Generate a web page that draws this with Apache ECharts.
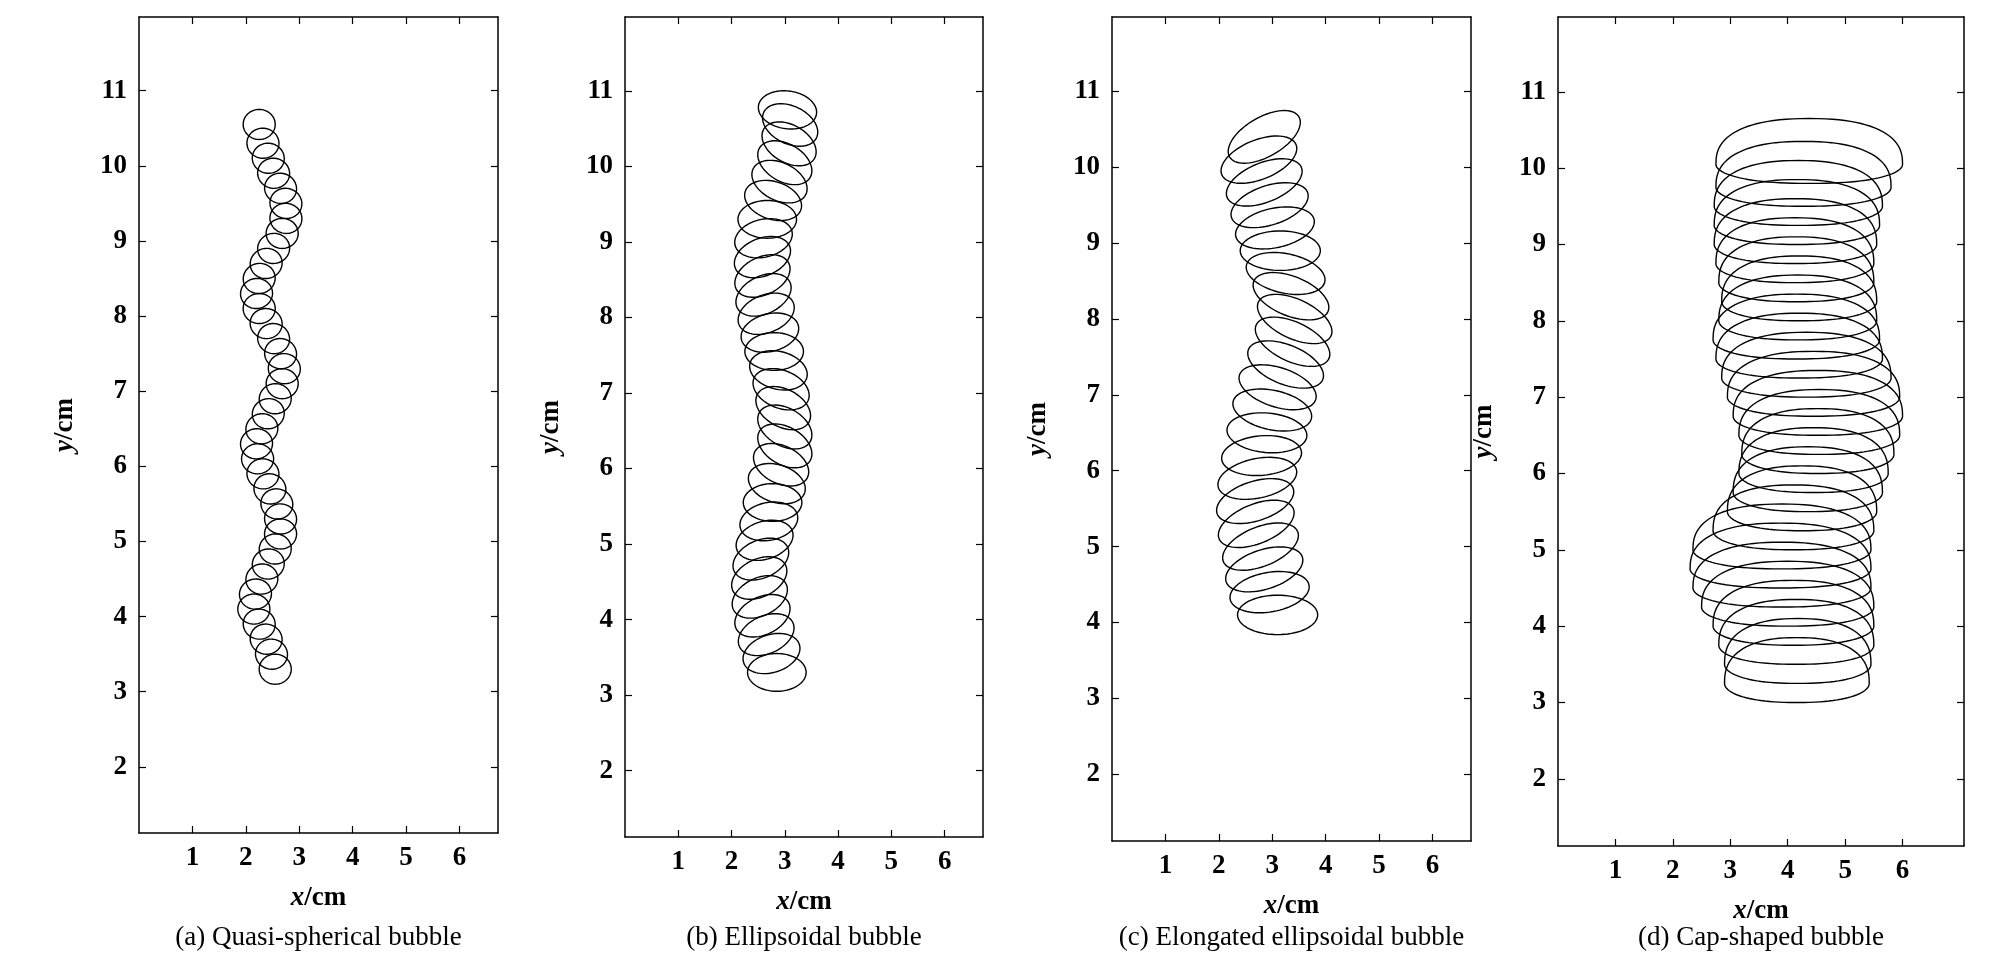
<!DOCTYPE html>
<html><head><meta charset="utf-8">
<script src="https://cdn.jsdelivr.net/npm/echarts@6/dist/echarts.min.js"></script>
<style>html,body{margin:0;padding:0;background:#fff}#c{width:2009px;height:958px}</style>
</head><body><div id="c"></div>
<script>
// ---- data (cm) ----
const xTicks = [1,2,3,4,5,6];
const yTicks = [2,3,4,5,6,7,8,9,10,11];
const captions = ['(a) Quasi-spherical bubble','(b) Ellipsoidal bubble','(c) Elongated ellipsoidal bubble','(d) Cap-shaped bubble'];

// (a) quasi-spherical: centres
const aY = [3.3,3.5,3.7,3.9,4.1,4.3,4.5,4.7,4.9,5.1,5.3,5.5,5.7,5.9,6.1,6.3,6.5,6.7,6.9,7.1,7.3,7.5,7.7,7.9,8.1,8.3,8.5,8.7,8.9,9.1,9.3,9.5,9.7,9.9,10.1,10.3,10.55];
const aX = [2.55,2.48,2.38,2.25,2.15,2.18,2.3,2.42,2.55,2.65,2.65,2.58,2.45,2.32,2.22,2.2,2.3,2.42,2.55,2.68,2.72,2.65,2.52,2.38,2.25,2.2,2.25,2.38,2.52,2.68,2.75,2.75,2.65,2.52,2.42,2.32,2.25];
const aTilt = [0,-10,-15,-10,0,10,15,15,10,0,-10,-15,-15,-10,0,10,15,15,10,0,-10,-15,-15,-10,0,10,15,15,10,0,-10,-15,-15,-10,-10,-5,0];
const aW = 0.6, aH = 0.4;

// (b) ellipsoidal
const bY = [3.3,3.55,3.8,4.05,4.3,4.55,4.8,5.05,5.3,5.55,5.8,6.05,6.3,6.55,6.8,7.05,7.3,7.55,7.8,8.05,8.3,8.55,8.8,9.05,9.3,9.55,9.8,10.05,10.3,10.55,10.75];
const bX = [2.85,2.75,2.65,2.58,2.53,2.52,2.55,2.62,2.7,2.77,2.85,2.93,3.0,3.0,2.97,2.93,2.88,2.8,2.72,2.65,2.6,2.58,2.58,2.6,2.67,2.78,2.9,3.0,3.08,3.1,3.05];
const bTilt = [0,18,24,26,26,26,24,18,12,0,-18,-26,-30,-30,-28,-22,-14,0,14,22,26,26,22,14,0,-18,-26,-30,-30,-26,-8];
const bW = 1.1, bH = 0.5;

// (c) elongated ellipsoidal
const cY = [4.1,4.4,4.7,5.0,5.3,5.6,5.9,6.2,6.5,6.8,7.1,7.4,7.7,8.0,8.3,8.6,8.9,9.2,9.5,9.8,10.1,10.4];
const cX = [3.1,2.95,2.85,2.78,2.7,2.68,2.72,2.8,2.9,3.0,3.1,3.25,3.38,3.42,3.35,3.25,3.15,3.05,2.95,2.85,2.75,2.85];
const cTilt = [0,10,18,22,22,18,12,5,-5,-12,-18,-22,-25,-25,-22,-12,0,12,18,22,22,30];
const cW = 1.5, cH = 0.52;

// (d) cap-shaped: vertical centre, left and right extents
const dY = [3.35,3.6,3.85,4.1,4.35,4.6,4.85,5.1,5.35,5.6,5.85,6.1,6.35,6.6,6.85,7.1,7.35,7.6,7.85,8.1,8.35,8.6,8.85,9.1,9.35,9.6,9.85,10.15];
const dL = [2.9,2.9,2.8,2.7,2.5,2.35,2.3,2.35,2.7,2.95,3.05,3.15,3.2,3.15,3.05,2.95,2.85,2.75,2.7,2.8,2.85,2.8,2.75,2.72,2.72,2.72,2.75,2.75];
const dR = [5.42,5.45,5.5,5.5,5.5,5.45,5.45,5.45,5.5,5.55,5.65,5.75,5.85,5.95,6.0,5.95,5.8,5.65,5.6,5.55,5.55,5.5,5.5,5.55,5.6,5.65,5.8,6.0];
const dH = 1.0;

// ---- layout ----
const grids = [
  {left:139, top:17, width:359, height:816, xmax:6.72},
  {left:625, top:17, width:358, height:820, xmax:6.72},
  {left:1112,top:17, width:359, height:824, xmax:6.72},
  {left:1558,top:17, width:406, height:829, xmax:7.07}
];
const FONT = 'Liberation Serif';

function ellipseItem(params, api){
  const c = api.coord([api.value(0), api.value(1)]);
  const sx = api.size([api.value(2), 0])[0];
  const sy = api.size([0, api.value(3)])[1];
  const A = sx/2, B = sy/2, th = api.value(4)*Math.PI/180;
  const pts = [];
  for(let i=0;i<72;i++){
    const t = i/72*2*Math.PI;
    const x = A*Math.cos(t), y = B*Math.sin(t);
    pts.push([c[0] + x*Math.cos(th) - y*Math.sin(th), c[1] - x*Math.sin(th) - y*Math.cos(th)]);
  }
  return {type:'polygon', shape:{points:pts}, style:{fill:'none', stroke:'#000', lineWidth:1.4}};
}
function capItem(params, api){
  const l = api.coord([api.value(0), api.value(2)]);
  const r = api.coord([api.value(1), api.value(2)]);
  const s = api.size([1, api.value(3)]);
  const cx = (l[0]+r[0])/2, cy = l[1], A = (r[0]-l[0])/2, B = s[1]/2;
  const pts = [];
  for(let i=0;i<96;i++){
    const t = i/96*2*Math.PI;
    const st = Math.sin(t);
    const x = A*Math.sign(Math.cos(t))*Math.pow(Math.abs(Math.cos(t)),0.85);
    const y = st>=0 ? B*1.2*Math.pow(st,0.8) - 0.2*B : 0.5*B*st - 0.2*B;
    pts.push([cx + x, cy - y]);
  }
  return {type:'polygon', shape:{points:pts}, style:{fill:'none', stroke:'#000', lineWidth:1.4}};
}

const grid=[], xAxis=[], yAxis=[], series=[], graphic=[];
const rich = {i:{fontFamily:FONT, fontStyle:'italic', fontWeight:'bold', fontSize:27, color:'#000'}, n:{fontFamily:FONT, fontWeight:'bold', fontSize:27, color:'#000'}};
grids.forEach((g,i)=>{
  grid.push({left:g.left, top:g.top, width:g.width, height:g.height, containLabel:false});
  const line = {show:true, onZero:false, lineStyle:{color:'#000', width:1.5}};
  const tick = {show:true, inside:true, length:7, lineStyle:{color:'#000', width:1.2}};
  const lab = {color:'#000', fontFamily:FONT, fontWeight:'bold', fontSize:27, margin:12};
  xAxis.push({type:'value', gridIndex:i, min:0, max:g.xmax, position:'bottom', axisLine:line,
    axisTick:Object.assign({customValues:xTicks}, tick), splitLine:{show:false},
    axisLabel:Object.assign({customValues:xTicks}, lab),
    name:'{i|x}{n|/cm}', nameLocation:'middle', nameGap:52, nameTextStyle:{rich}});
  xAxis.push({type:'value', gridIndex:i, min:0, max:g.xmax, position:'top', axisLine:line,
    axisTick:Object.assign({customValues:xTicks}, tick), axisLabel:{show:false}, splitLine:{show:false}});
  yAxis.push({type:'value', gridIndex:i, min:1.12, max:11.98, position:'left', axisLine:line,
    axisTick:Object.assign({customValues:yTicks}, tick), splitLine:{show:false},
    axisLabel:Object.assign({customValues:yTicks}, lab),
    name:'{i|y}{n|/cm}', nameLocation:'middle', nameGap:60, nameRotate:90, nameTextStyle:{rich}});
  yAxis.push({type:'value', gridIndex:i, min:1.12, max:11.98, position:'right', axisLine:line,
    axisTick:Object.assign({customValues:yTicks}, tick), axisLabel:{show:false}, splitLine:{show:false}});
  graphic.push({type:'text', x:g.left + g.width/2, y:924, style:{text:captions[i], font:'27px "Liberation Serif"', fill:'#000', align:'center'}});
});

const dataA = aX.map((x,k)=>[x, aY[k], aW, aH, aTilt[k]]);
const dataB = bX.map((x,k)=>[x, bY[k], bW, bH, bTilt[k]]);
const dataC = cX.map((x,k)=>[x, cY[k], cW, cH, cTilt[k]]);
const dataD = dL.map((l,k)=>[l, dR[k], dY[k], dH]);
[[dataA,ellipseItem],[dataB,ellipseItem],[dataC,ellipseItem],[dataD,capItem]].forEach((p,i)=>{
  series.push({type:'custom', xAxisIndex:2*i, yAxisIndex:2*i, data:p[0], renderItem:p[1], silent:true,
    encode: i===3 ? {x:[0,1], y:2} : {x:0, y:1}, clip:true, animation:false});
});

const chart = echarts.init(document.getElementById('c'));
chart.setOption({backgroundColor:'#fff', animation:false, grid, xAxis, yAxis, series, graphic});
</script></body></html>
